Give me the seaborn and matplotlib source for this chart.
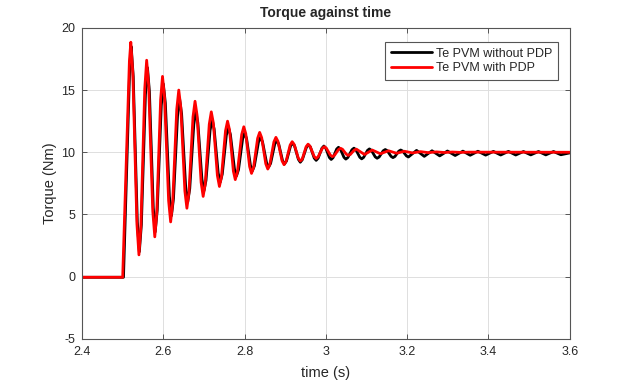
import matplotlib
matplotlib.use("Agg")
import matplotlib.pyplot as plt
import seaborn as sns

# points (time in s, torque in Nm): peaks, troughs
# and the shoulders between them
time_without_pdp = [
    2.400, 2.502, 2.5175, 2.521, 2.526, 2.536, 2.541, 2.546, 2.556, 2.561,
    2.5658, 2.5753, 2.580, 2.585, 2.595, 2.600, 2.605, 2.615, 2.620, 2.625,
    2.635, 2.640, 2.645, 2.655, 2.660, 2.665, 2.675, 2.680, 2.685, 2.695,
    2.700, 2.705, 2.715, 2.720, 2.725, 2.735, 2.740, 2.745, 2.755, 2.760,
    2.765, 2.775, 2.780, 2.785, 2.795, 2.800, 2.8048, 2.8143, 2.819, 2.824,
    2.834, 2.839, 2.844, 2.854, 2.859, 2.864, 2.874, 2.879, 2.8838, 2.8933,
    2.898, 2.903, 2.913, 2.918, 2.9228, 2.9323, 2.937, 2.942, 2.952, 2.957,
    2.9618, 2.9713, 2.976, 2.9808, 2.9903, 2.995, 2.9995, 3.0085, 3.013, 3.0175,
    3.0265, 3.031, 3.0355, 3.0445, 3.049, 3.054, 3.064, 3.069, 3.0738, 3.0833,
    3.088, 3.0928, 3.1023, 3.107, 3.1118, 3.1213, 3.126, 3.131, 3.141, 3.146,
    3.1508, 3.1603, 3.165, 3.1698, 3.1793, 3.184, 3.1888, 3.1983, 3.203, 3.223,
    3.242, 3.261, 3.280, 3.299, 3.318, 3.337, 3.355, 3.374, 3.393, 3.412,
    3.430, 3.449, 3.467, 3.486, 3.504, 3.523, 3.541, 3.560, 3.578, 3.600,
]
torque_without_pdp = [
    -0.05, -0.05, 17.0, 18.5, 16.08, 4.42, 2.0, 4.17, 14.63, 16.8,
    14.87, 5.53, 3.6, 5.34, 13.76, 15.5, 13.95, 6.45, 4.9, 6.28,
    12.92, 14.3, 13.08, 7.22, 6.0, 7.07, 12.23, 13.3, 12.36, 7.84,
    6.9, 7.74, 11.76, 12.6, 11.87, 8.33, 7.6, 8.24, 11.36, 12.0,
    11.43, 8.67, 8.1, 8.6, 11.05, 11.55, 11.1, 8.95, 8.5, 8.9,
    10.8, 11.2, 10.85, 9.15, 8.8, 9.11, 10.64, 10.95, 10.67, 9.33,
    9.05, 9.3, 10.5, 10.75, 10.52, 9.43, 9.2, 9.41, 10.39, 10.6,
    10.42, 9.53, 9.35, 9.52, 10.33, 10.5, 10.34, 9.58, 9.42, 9.56,
    10.26, 10.4, 10.26, 9.59, 9.45, 9.58, 10.2, 10.33, 10.2, 9.6,
    9.47, 9.59, 10.15, 10.27, 10.16, 9.63, 9.52, 9.62, 10.12, 10.22,
    10.13, 9.67, 9.57, 9.66, 10.09, 10.18, 10.1, 9.7, 9.62, 10.15,
    9.67, 10.12, 9.71, 10.1, 9.74, 10.09, 9.76, 10.08, 9.77, 10.07,
    9.78, 10.07, 9.78, 10.06, 9.79, 10.06, 9.79, 10.06, 9.8, 9.95,
]

time_with_pdp = [
    2.400, 2.500, 2.5165, 2.520, 2.525, 2.535, 2.540, 2.5448, 2.5543, 2.559,
    2.564, 2.574, 2.579, 2.5838, 2.5933, 2.598, 2.603, 2.613, 2.618, 2.623,
    2.633, 2.638, 2.643, 2.653, 2.658, 2.663, 2.673, 2.678, 2.683, 2.693,
    2.698, 2.703, 2.713, 2.718, 2.723, 2.733, 2.738, 2.743, 2.753, 2.758,
    2.7628, 2.7723, 2.777, 2.7823, 2.7928, 2.798, 2.8028, 2.8123, 2.817, 2.822,
    2.832, 2.837, 2.842, 2.852, 2.857, 2.862, 2.872, 2.877, 2.882, 2.892,
    2.897, 2.902, 2.912, 2.917, 2.922, 2.932, 2.937, 2.9418, 2.9513, 2.956,
    2.961, 2.971, 2.976, 2.981, 2.991, 2.996, 3.001, 3.011, 3.016, 3.021,
    3.031, 3.036, 3.0408, 3.0503, 3.055, 3.060, 3.070, 3.075, 3.095, 3.114,
    3.134, 3.154, 3.174, 3.193, 3.213, 3.233, 3.252, 3.272, 3.292, 3.311,
    3.331, 3.351, 3.600,
]
torque_with_pdp = [
    -0.05, -0.05, 17.3, 18.85, 16.35, 4.25, 1.75, 4.04, 15.11, 17.4,
    15.32, 5.28, 3.2, 5.09, 14.21, 16.1, 14.39, 6.11, 4.4, 5.95,
    13.45, 15.0, 13.61, 6.89, 5.5, 6.76, 12.84, 14.1, 12.98, 7.57,
    6.45, 7.45, 12.25, 13.25, 12.37, 8.13, 7.25, 8.02, 11.73, 12.5,
    11.81, 8.49, 7.8, 8.42, 11.43, 12.05, 11.5, 8.85, 8.3, 8.78,
    11.12, 11.6, 11.17, 9.08, 8.65, 9.02, 10.83, 11.2, 10.88, 9.32,
    9.0, 9.27, 10.58, 10.85, 10.62, 9.53, 9.3, 9.45, 10.45, 10.65,
    10.48, 9.67, 9.5, 9.64, 10.31, 10.45, 10.33, 9.77, 9.65, 9.75,
    10.22, 10.32, 10.24, 9.84, 9.75, 9.82, 10.18, 10.25, 9.82, 10.18,
    9.88, 10.12, 9.92, 10.08, 9.95, 10.05, 9.97, 10.03, 9.98, 10.02,
    9.99, 10.01, 10.0,
]

x_ticks = [2.4, 2.6, 2.8, 3.0, 3.2, 3.4, 3.6]
x_tick_labels = ["2.4", "2.6", "2.8", "3", "3.2", "3.4", "3.6"]
y_ticks = [-5, 0, 5, 10, 15, 20]

sns.set_style("whitegrid")
plt.rcParams["font.family"] = ["Liberation Sans", "DejaVu Sans"]
plt.rcParams["axes.unicode_minus"] = False

fig = plt.figure(figsize=(6.31, 3.82), dpi=100)
ax = fig.add_axes([0.13, 0.113, 0.773, 0.814])

sns.lineplot(x=time_without_pdp, y=torque_without_pdp, color="black",
             linewidth=2, estimator=None, sort=False,
             label="Te PVM without PDP", ax=ax)
sns.lineplot(x=time_with_pdp, y=torque_with_pdp, color="red",
             linewidth=2, estimator=None, sort=False,
             label="Te PVM with PDP", ax=ax)
for ln in ax.get_lines():
    ln.set_solid_joinstyle("round")

ax.set_xlim(2.4, 3.6)
ax.set_ylim(-5, 20)
ax.set_xticks(x_ticks)
ax.set_xticklabels(x_tick_labels)
ax.set_yticks(y_ticks)

ax.grid(True, color="#dedede", linewidth=0.7)
for side in ax.spines.values():
    side.set_visible(True)
    side.set_color("#555555")
    side.set_linewidth(0.8)
ax.tick_params(direction="in", length=3.5, width=0.7, color="#555555",
               labelsize=9, labelcolor="#262626", top=True, right=True,
               bottom=True, left=True, pad=5)

ax.set_title("Torque against time", fontsize=10, fontweight="bold", pad=8)
ax.set_xlabel("time (s)", fontsize=10.5, color="#262626", labelpad=6)
ax.set_ylabel("Torque (Nm)", fontsize=10.5, color="#262626", labelpad=3)

leg = ax.legend(loc="upper right", bbox_to_anchor=(0.975, 0.955),
                fontsize=9, handlelength=3.3, frameon=True, fancybox=False,
                borderaxespad=0, borderpad=0.45, labelspacing=0.2,
                handletextpad=0.3)
leg.get_frame().set_edgecolor("#555555")
leg.get_frame().set_linewidth(0.8)
leg.get_frame().set_alpha(1)
for h in leg.get_lines():
    h.set_linewidth(2)

fig.savefig("out.png", dpi=100, facecolor="white")
